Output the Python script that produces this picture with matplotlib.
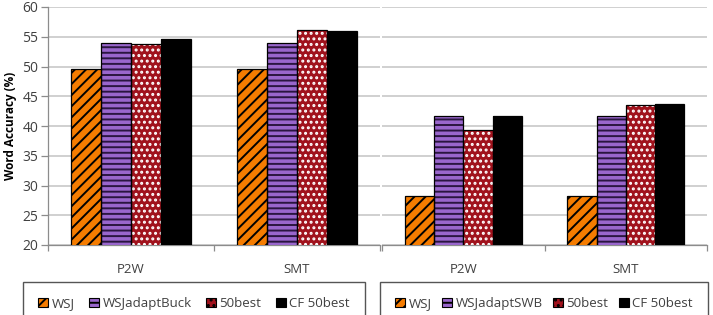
import matplotlib
matplotlib.use('Agg')
import matplotlib.pyplot as plt
import matplotlib.patches as mpatches
import numpy as np

plt.rcParams['font.family'] = ['Open Sans', 'DejaVu Sans']
plt.rcParams['hatch.linewidth'] = 1.4

# Data
categories = ['P2W', 'SMT']
left_labels = ['WSJ', 'WSJadaptBuck', '50best', 'CF 50best']
right_labels = ['WSJ', 'WSJadaptSWB', '50best', 'CF 50best']
left_values = [
    [49.6, 49.6],   # WSJ
    [54.0, 54.0],   # WSJadaptBuck
    [53.7, 56.2],   # 50best
    [54.6, 55.9],   # CF 50best
]
right_values = [
    [28.3, 28.3],   # WSJ
    [41.7, 41.7],   # WSJadaptSWB
    [39.4, 43.6],   # 50best
    [41.6, 43.7],   # CF 50best
]

# styles: (face, hatch, hatch colour)
styles = [
    ('#F57C00', '///', 'black'),
    ('#9966CC', '---', '#2a1540'),
    ('#A0121C', '...', 'white'),
    ('black', '', 'black'),
]

fig = plt.figure(figsize=(7.13, 3.15), dpi=100)
W, H = 713, 315
ax1 = fig.add_axes([48 / W, 1 - 245 / H, (380 - 48) / W, (245 - 7) / H])
ax2 = fig.add_axes([382 / W, 1 - 245 / H, (707 - 382) / W, (245 - 7) / H])

bw = 0.18
x = np.arange(len(categories))
grid_c = '#c8c8c8'
axis_c = '#8c8c8c'
txt_c = '#404040'

for ax, values, labels in [(ax1, left_values, left_labels), (ax2, right_values, right_labels)]:
    handles = []
    for i, vals in enumerate(values):
        face, hatch, hc = styles[i]
        pos = x + (i - 1.5) * bw
        ax.bar(pos, vals, bw, color=face, edgecolor=hc, hatch=hatch,
               linewidth=0, zorder=3)
        ax.bar(pos, vals, bw, fill=False, edgecolor='black', linewidth=0.9,
               zorder=4)
        handles.append(mpatches.Patch(facecolor=face, edgecolor='black', hatch=hatch,
                                      linewidth=0.8, label=labels[i]))
    ax.set_ylim(20, 60)
    ax.set_xlim(-0.5, 1.5)
    ax.set_yticks(np.arange(20, 61, 5))
    ax.yaxis.grid(True, color=grid_c, linewidth=1.2, zorder=0)
    ax.set_axisbelow(True)
    ax.set_xticks(x)
    ax.set_xticklabels(categories, fontsize=9.5, color=txt_c)
    ax.set_xticks([-0.5, 0.5, 1.5], minor=True)
    ax.tick_params(axis='x', which='major', length=0, pad=13)
    ax.tick_params(axis='x', which='minor', length=4, color=axis_c, width=0.9)
    for s in ['top', 'right']:
        ax.spines[s].set_visible(False)
    ax.spines['bottom'].set_color(axis_c)
    ax.spines['left'].set_color(axis_c)
    ax.spines['bottom'].set_linewidth(0.9)
    ax.spines['left'].set_linewidth(0.9)
    ax.legend(handles=handles, loc='upper left',
              bbox_to_anchor=((23 if ax is ax1 else 380) / W, 1 - 285 / H,
                              ((365 - 23) if ax is ax1 else (708 - 380)) / W, 0.01),
              bbox_transform=fig.transFigure, mode='expand', ncol=4,
              fontsize=9.5, fancybox=False, edgecolor='#555555', handlelength=0.75,
              handleheight=0.75, handletextpad=0.25, borderpad=1.15, columnspacing=0.8,
              borderaxespad=0, framealpha=1, labelcolor=txt_c)

ax1.tick_params(axis='y', length=5, color=axis_c, width=0.9, labelsize=10,
                labelcolor=txt_c, pad=2)
ax2.spines['left'].set_visible(False)
ax2.tick_params(axis='y', length=0, labelleft=False)
ax1.set_ylabel('Word Accuracy (%)', fontsize=8.5, fontweight='bold', labelpad=4)

fig.savefig('out.png', dpi=100)
